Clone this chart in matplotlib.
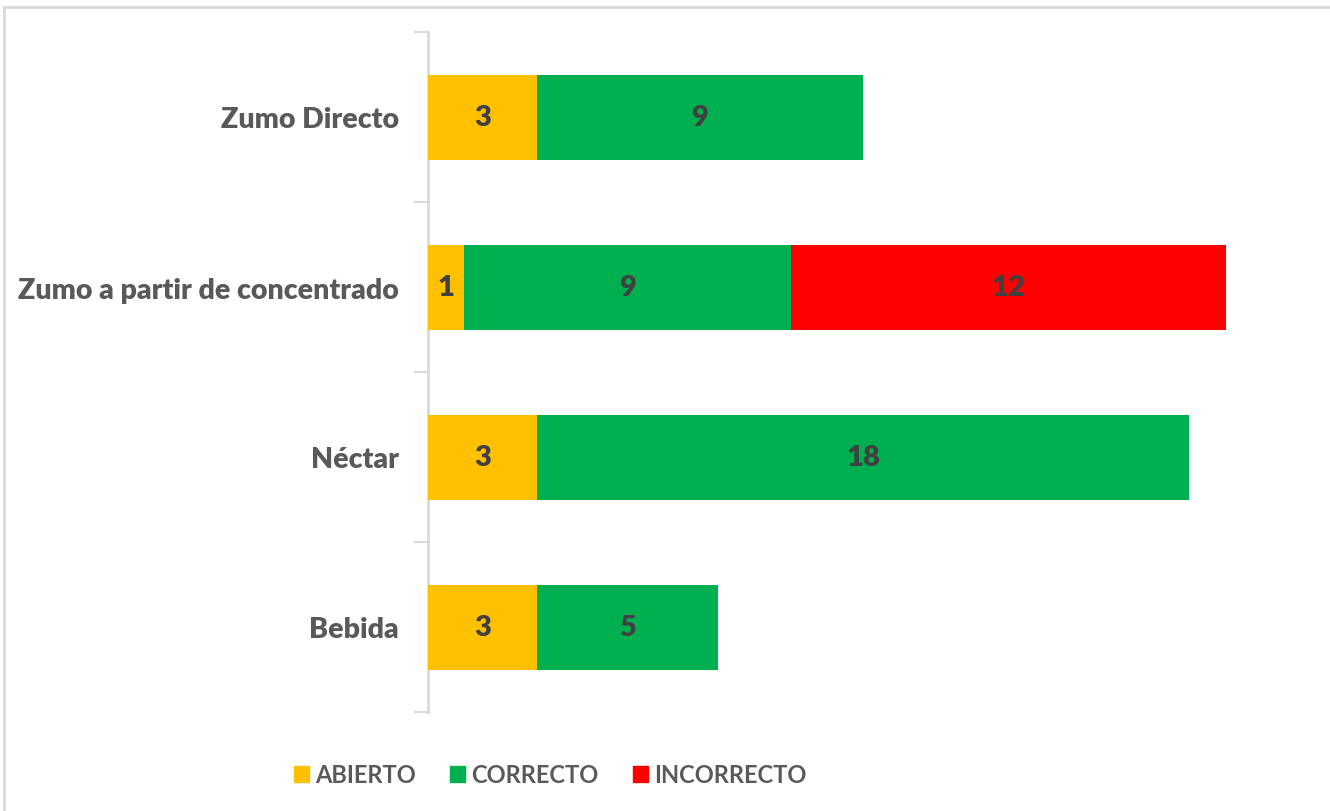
import numpy as np
import matplotlib
matplotlib.use("Agg")
import matplotlib.pyplot as plt
from matplotlib.lines import Line2D

categories = ["Zumo Directo", "Zumo a partir de concentrado", "Néctar", "Bebida"]
series_names = ["ABIERTO", "CORRECTO", "INCORRECTO"]
abierto = [3, 1, 3, 3]
correcto = [9, 9, 18, 5]
incorrecto = [0, 12, 0, 0]

COLORS = ["#FFC000", "#00B050", "#FF0000"]
LABEL_COLOR = "#404040"
AXIS_TEXT = "#595959"
SPINE = "#D9D9D9"

plt.rcParams["font.family"] = ["Lato", "DejaVu Sans"]

fig = plt.figure(figsize=(13.3, 8.12), dpi=100)
ax = fig.add_axes([428 / 1330, 1 - 713 / 812, 870 / 1330, 680 / 812])

y = np.arange(len(categories))
left = np.zeros(len(categories))
for name, vals, col in zip(series_names, [abierto, correcto, incorrecto], COLORS):
    vals = np.array(vals, dtype=float)
    ax.barh(y, vals, height=0.5, left=left, color=col, label=name, zorder=3)
    for yi, l, v in zip(y, left, vals):
        if v > 0:
            ax.text(l + v / 2, yi, f"{int(v)}", ha="center", va="center",
                    fontsize=21, fontweight=800, color=LABEL_COLOR, zorder=4)
    left += vals

ax.set_ylim(3.5, -0.5)
ax.set_xlim(0, 24)
ax.set_yticks(y)
ax.set_yticklabels(categories, fontsize=20.5, fontweight=800, color=AXIS_TEXT)
ax.set_yticks(np.arange(-0.5, 4.0, 1.0), minor=True)
ax.tick_params(axis="y", which="major", length=0, pad=21)
ax.tick_params(axis="y", which="minor", length=10, width=1.5, color=SPINE)
ax.set_xticks([])

for s in ["top", "right", "bottom"]:
    ax.spines[s].set_visible(False)
ax.spines["left"].set_color(SPINE)
ax.spines["left"].set_linewidth(2)

handles = [plt.Rectangle((0, 0), 1, 1, color=c) for c in COLORS]
fig.legend(handles, series_names, loc="center", ncol=3,
           bbox_to_anchor=(550 / 1330, 1 - 776 / 812), frameon=False,
           prop={"family": "Lato", "size": 17, "weight": 700},
           labelcolor=AXIS_TEXT, handlelength=0.65, handleheight=0.65,
           handletextpad=0.25, columnspacing=1.45)

# outer chart frame (only top and left edges visible in crop)
fig.add_artist(Line2D([4 / 1330, 1], [1 - 8 / 812, 1 - 8 / 812],
                      transform=fig.transFigure, color=SPINE, lw=2))
fig.add_artist(Line2D([4 / 1330, 4 / 1330], [0, 1 - 8 / 812],
                      transform=fig.transFigure, color=SPINE, lw=2))

fig.savefig("out.png", dpi=100, facecolor="white")
